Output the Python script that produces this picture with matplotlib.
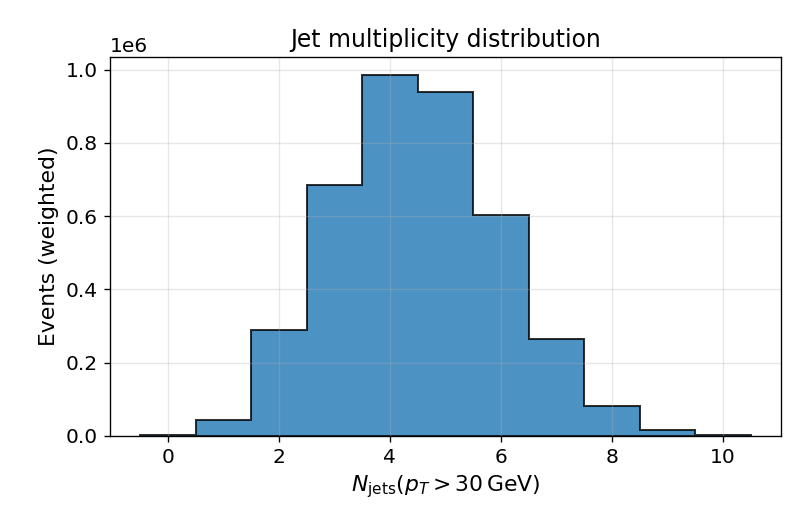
import numpy as np
import matplotlib.pyplot as plt

# jet multiplicity bins and weighted counts
n_jets = [0, 1, 2, 3, 4, 5, 6, 7, 8, 9, 10]
events = [3.0e3, 4.4e4, 2.90e5, 6.85e5, 9.86e5, 9.40e5, 6.04e5, 2.66e5, 8.3e4, 1.7e4, 2.0e3]

edges = np.arange(-0.5, 11.0, 1.0)

dpi = 121
fig = plt.figure(figsize=(789 / dpi, 531 / dpi), dpi=dpi)
ax = fig.add_axes([0.139, 0.179, 0.851, 0.714])

ax.hist(n_jets, bins=edges, weights=events, histtype='stepfilled',
        color='tab:blue', alpha=0.8, edgecolor='black', linewidth=1.2)

ax.set_xlabel(r'$N_{\mathrm{jets}}(p_T > 30\,\mathrm{GeV})$', fontsize=13)
ax.set_ylabel('Events (weighted)', fontsize=13)
ax.set_title('Jet multiplicity distribution', fontsize=14)
ax.tick_params(labelsize=12)
ax.yaxis.get_offset_text().set_fontsize(12)
ax.grid(True, alpha=0.3)

fig.savefig('out.png', dpi=dpi)
